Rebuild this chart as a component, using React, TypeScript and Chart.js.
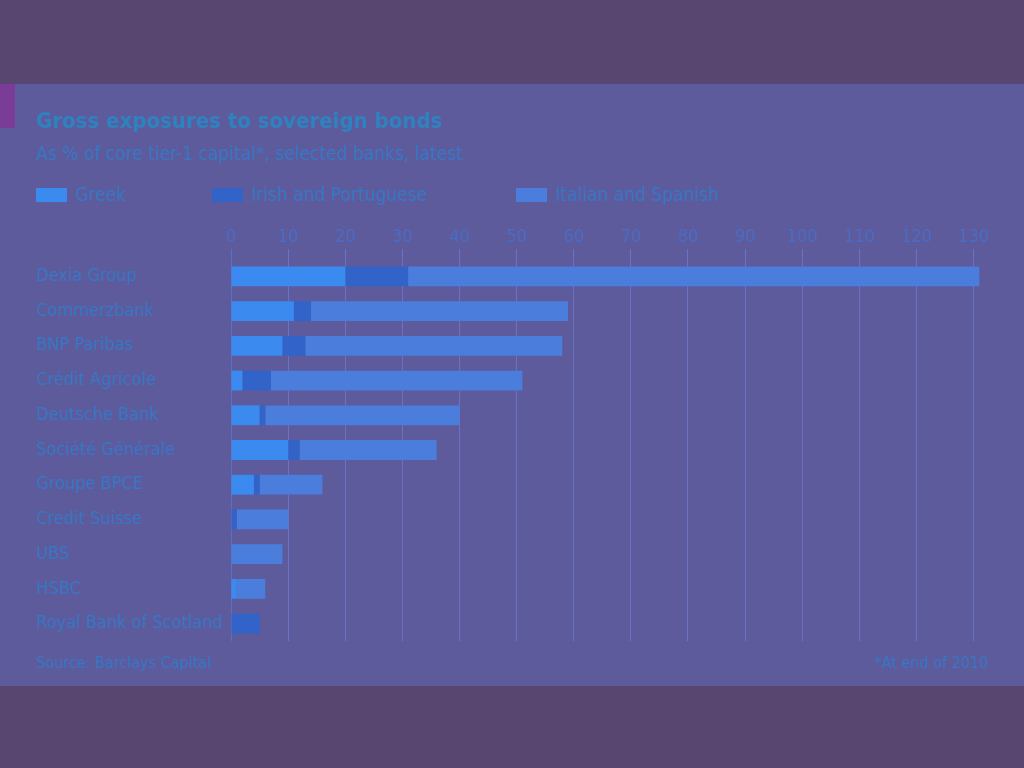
import React, { useEffect, useRef } from "react";
import { Chart, registerables } from "chart.js";

Chart.register(...registerables);

const banks = [
  "Dexia Group",
  "Commerzbank",
  "BNP Paribas",
  "Crédit Agricole",
  "Deutsche Bank",
  "Société Générale",
  "Groupe BPCE",
  "Credit Suisse",
  "UBS",
  "HSBC",
  "Royal Bank of Scotland",
];
const greek = [20, 11, 9, 2, 5, 10, 4, 0, 0, 1, 0];
const irishPortuguese = [11, 3, 4, 5, 1, 2, 1, 1, 0, 0, 5];
const italianSpanish = [100, 45, 45, 44, 34, 24, 11, 9, 9, 5, 0];
const tickValues = [0, 10, 20, 30, 40, 50, 60, 70, 80, 90, 100, 110, 120, 130];

const seriesNames = ["Greek", "Irish and Portuguese", "Italian and Spanish"];
const seriesColors = ["#3a8af0", "#3263c8", "#4a7ddc"];

const titleText = "Gross exposures to sovereign bonds";
const subtitleText = "As % of core tier-1 capital*, selected banks, latest";
const sourceText = "Source: Barclays Capital";
const noteText = "*At end of 2010";

const FONT = "'DejaVu Sans Condensed', 'Liberation Sans Narrow', sans-serif";
const TEXT = "#3678c6";

const decorPlugin = {
  id: "decor",
  beforeDraw(chart: any) {
    const ctx = chart.ctx;
    ctx.save();
    ctx.fillStyle = "#584670";
    ctx.fillRect(0, 0, chart.width, chart.height);
    ctx.fillStyle = "#5d5b9c";
    ctx.fillRect(0, 84, chart.width, 602);
    ctx.fillStyle = "#7b3c98";
    ctx.fillRect(0, 84, 15, 44);
    ctx.restore();
  },
  afterDraw(chart: any) {
    const ctx = chart.ctx;
    ctx.save();
    ctx.textBaseline = "middle";
    ctx.textAlign = "left";
    ctx.fillStyle = "#2f82c0";
    ctx.font = `bold 22px ${FONT}`;
    ctx.fillText(titleText, 36, 122);
    ctx.fillStyle = TEXT;
    ctx.font = `19px ${FONT}`;
    ctx.fillText(subtitleText, 36, 155);
    const legendX = [36, 212, 516];
    seriesNames.forEach((n, i) => {
      ctx.fillStyle = seriesColors[i];
      ctx.fillRect(legendX[i], 188, 31, 14);
      ctx.fillStyle = TEXT;
      ctx.font = `19px ${FONT}`;
      ctx.fillText(n, legendX[i] + 39, 196);
    });
    ctx.font = `16px ${FONT}`;
    ctx.fillText(sourceText, 36, 664);
    ctx.textAlign = "right";
    ctx.fillText(noteText, 988, 664);
    ctx.restore();
  },
};

export default function App() {
  const ref = useRef<HTMLCanvasElement>(null);
  useEffect(() => {
    Chart.defaults.font.family = FONT;
    const chart = new Chart(ref.current!, {
      type: "bar",
      data: {
        labels: banks,
        datasets: [greek, irishPortuguese, italianSpanish].map((d, i) => ({
          label: seriesNames[i],
          data: d,
          backgroundColor: seriesColors[i],
          borderWidth: 0,
          categoryPercentage: 1,
          barPercentage: 0.57,
        })),
      },
      options: {
        indexAxis: "y",
        responsive: false,
        animation: false,
        layout: { padding: { top: 224, left: 36, right: 39, bottom: 127 } },
        plugins: {
          legend: { display: false },
          title: { display: false },
          tooltip: { enabled: false },
        },
        scales: {
          x: {
            position: "top",
            stacked: true,
            min: 0,
            max: 132,
            afterBuildTicks: (s: any) => {
              s.ticks = tickValues.map((v) => ({ value: v }));
            },
            afterFit: (s: any) => {
              s.height = 35;
            },
            ticks: {
              padding: 1,
              color: "#4a6cc4",
              font: { size: 18, family: FONT },
            },
            grid: {
              color: (c: any) => (c.tick && c.tick.value === 0 ? "#5a70c8" : "#6a72c4"),
              lineWidth: 1,
              tickLength: 10,
            },
            border: { display: false },
          },
          y: {
            stacked: true,
            afterFit: (s: any) => {
              s.width = 195;
            },
            ticks: {
              crossAlign: "far",
              autoSkip: false,
              color: TEXT,
              font: { size: 18, family: FONT },
            },
            grid: { display: false },
            border: { display: false },
          },
        },
      },
      plugins: [decorPlugin],
    });
    return () => chart.destroy();
  }, []);
  return (
    <div style={{ position: "absolute", left: 0, top: 0, width: 1024, height: 768 }}>
      <canvas ref={ref} width={1024} height={768} style={{ display: "block" }} />
    </div>
  );
}
